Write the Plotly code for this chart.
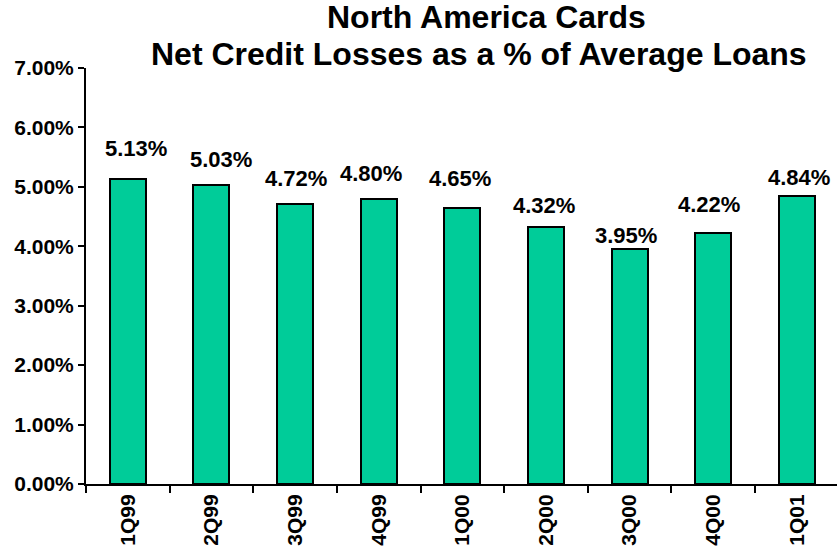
import plotly.graph_objects as go

# Quarterly net credit losses, % of average loans
quarters = ["1Q99", "2Q99", "3Q99", "4Q99", "1Q00", "2Q00", "3Q00", "4Q00", "1Q01"]
loss_pct = [5.13, 5.03, 4.72, 4.80, 4.65, 4.32, 3.95, 4.22, 4.84]
y_ticks = [0, 1, 2, 3, 4, 5, 6, 7]
y_tick_text = [f"{t:.2f}%" for t in y_ticks]

title_lines = ["North America Cards", "Net Credit Losses as a % of Average Loans"]

# hand-placed offsets (px) of each value label relative to its bar top
label_dy = [31, 26, 25, 25, 29, 22, 14, 29, 19]
label_dx = [8, 10, 1, -8, -2, -2, -4, -4, 2]

FONT = "Arial, Liberation Sans, Helvetica, sans-serif"
BAR_COLOR = "#00CC99"

fig = go.Figure(
    go.Bar(
        x=quarters,
        y=loss_pct,
        width=0.43,
        marker=dict(color=BAR_COLOR, line=dict(color="black", width=2)),
        hoverinfo="x+y",
    )
)

for q, v, dy, dx in zip(quarters, loss_pct, label_dy, label_dx):
    fig.add_annotation(
        x=q, y=v, xref="x", yref="y",
        text=f"{v:.2f}%",
        showarrow=False,
        yanchor="middle", xanchor="center",
        yshift=dy, xshift=dx,
        font=dict(family=FONT, size=22, color="black", weight="bold"),
    )

L, R, T, B = 86, 1, 68, 69
W, H = 838, 553
plot_w = W - L - R
plot_h = H - T - B

# two-line title, each line placed by its vertical centre (px from top)
for line, cy, cx in zip(title_lines, [17, 54], [486, 479]):
    fig.add_annotation(
        xref="paper", yref="paper",
        x=(cx - L) / plot_w, y=(H - B - cy) / plot_h,
        xanchor="center", yanchor="middle",
        text=line,
        showarrow=False,
        font=dict(family=FONT, size=32, color="black", weight="bold"),
    )

fig.update_layout(
    width=W, height=H,
    margin=dict(l=L, r=R, t=T, b=B, pad=0),
    plot_bgcolor="white",
    paper_bgcolor="white",
    showlegend=False,
    bargap=0,
    xaxis=dict(
        range=[-0.5, 8.48],
        showline=True, linecolor="black", linewidth=2,
        ticks="outside", tickson="boundaries", ticklen=7, tickwidth=2, tickcolor="black",
        tickangle=-90,
        tickfont=dict(family=FONT, size=21, color="black", weight="bold"),
        showgrid=False, zeroline=False,
    ),
    yaxis=dict(
        range=[0, 7],
        tickmode="array",
        tickvals=y_ticks,
        ticktext=y_tick_text,
        showline=True, linecolor="black", linewidth=2,
        ticks="outside", ticklen=6, tickwidth=2, tickcolor="black",
        tickfont=dict(family=FONT, size=21, color="black", weight="bold"),
        showgrid=False, zeroline=False,
    ),
)

fig.write_html("out.html")
